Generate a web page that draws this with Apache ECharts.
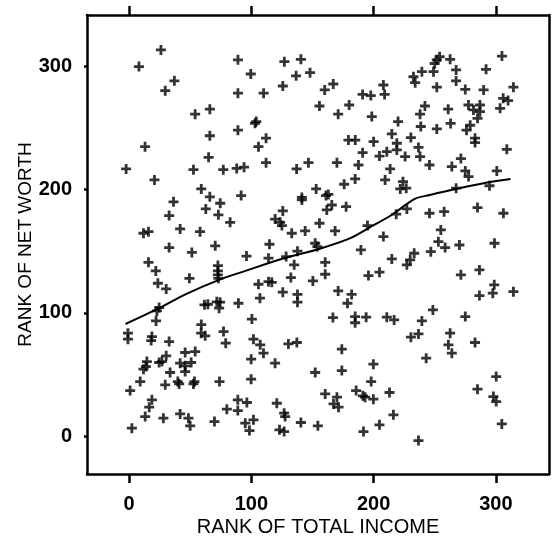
<!DOCTYPE html>
<html><head><meta charset="utf-8">
<script src="https://cdn.jsdelivr.net/npm/echarts@6/dist/echarts.min.js"></script>
<style>html,body{margin:0;padding:0;background:#fff}#c{width:553px;height:540px}</style>
</head><body><div id="c"></div>
<script>
const incomeRank = [
26,8,37,29.5,54,66,66,13,65,89,89,89,-2.5,52.6,77,88,94,
127,140.5,99.5,136.6,148,125.7,110,167,160,155.7,171,180,191,197.7,208,209,198.5,103,104,112,105.8,112,146.7,170,179.4,185,200,191,187.6,204.8,210.8,219,219,214.9,220,137,213.5,
254,251.7,250,262.6,249,239.5,232.6,234,267.5,267.5,251.7,275,292,290,305,314.4,306,310,303.5,242,238,238.6,251.7,263,261,277.6,281.7,287,287,285,279,276,283,283,309,230.5,236.7,225.8,238,245.7,271.4,264,275,300.8,
20.7,59,66,91.6,36.3,62.7,74.5,73,82.6,32.7,11.7,15.8,41.7,58,32.7,51.3,70.4,96,15.8,21.8,49.3,23.5,30.3,72.6,72.6,72.6,73,61.6,64.4,71.7,74.4,73.6,89.4,24.5,22.7,22,59,
153,163,161,141.3,141.3,165.8,161.7,177.5,125.7,119.4,123.5,125,155.7,133,144,168.5,114.8,152.2,154,137.7,114,128.4,135,160.4,132.3,160.4,105.8,114,116.7,150.3,125.7,137.7,137.7,107,100.4,171,182,178.6,166.7,184.9,184.9,193.9,210.8,216.8,189.6,195,208,214.9,195.8,204.8,218.5,175.9,184.9,209.4,
277.7,224,226.7,221.8,267.5,294.8,227.2,245.7,257.7,285,306.2,255,253,258.5,270.2,246.8,233.2,229.9,227.2,298.9,271.4,286.6,298.7,297.5,286.6,314.4,248.5,239.5,275,
-1,-1,18.6,18,32.7,58.9,62.2,77.2,79,14.5,13.7,11.7,26.8,30.3,24.5,45.8,54,41.7,45.8,50.7,45.8,33.5,9,29.5,39.8,40.9,53.4,52.6,0.8,73.9,18.6,16.4,13.1,28,41.7,48.5,49.9,2.2,69.8,88.9,79.9,88.9,
101.7,107.2,109.9,99.8,119.4,130.3,137.2,99.8,152.2,174,174,96.3,95,101.7,98.4,120.8,126.8,127.6,123,126.8,140.5,154.4,160.4,170,167.2,171.3,185.7,191.2,193,199.8,198,199.8,213,216.2,204.8,191.7,
230.5,236.7,262.6,261.2,264,283,243,300.3,285,298,300.3,304.9,236.7
];
const worthRank = [
313,299.5,288,280,261,265,243.5,234.6,226,305,278,248,216.6,216,216,217,218,
303.5,305.4,293.5,292,294.6,283.8,278,285.4,280.6,267.6,261,268.4,277,276,284.6,277,259,253.6,255,241.5,234.6,221.7,221.7,221.7,240,240,238.7,229.8,219.8,227,230.6,237.4,232,245,255,216.6,216.6,
307.5,305,302,305.4,295.4,295.4,291.3,286.5,296.8,287.9,282.8,281,297.3,280.6,308,282.8,273.8,272,265.7,267.6,261,251,249,253.5,265,268.4,264.4,268.4,263,257.6,252,248,241.5,238,232.5,242,234,226.6,226.6,219.8,225,218.5,215,215,
207.7,200.4,194,195,190,184.2,188.8,179.4,173.4,178.8,164.5,165.8,168,165.8,152.9,149,154.3,146,141,134,128,124,119.4,138.3,134,130.8,128,106.5,107,109,108.7,103.8,107.8,104.3,101.6,93.5,90.5,
200.4,196,195,191.5,193.5,187.4,183.4,186,182.6,176,173.4,170.7,172.6,164.5,166.4,166.4,155.6,156.4,153.7,150,144.3,145.6,138.9,141,128.6,131.3,123.2,125.3,124.8,125.9,116.8,115,108.7,111.9,95,117.8,115,107.8,96.2,97,92,96.5,96.5,94.3,151,170.7,161.8,143.7,130.2,133,180,204.2,208.5,207.7,
210.4,206.3,201,200.4,201,203,184.2,180.7,182,185.3,180.7,167.2,157.7,152.9,155,149.6,148.3,143,138.9,156.4,130.8,134.8,122.7,116,114,117.2,102.4,93.5,97,
83.6,78.7,80.8,77.6,76.8,83.6,81.4,84.9,75.5,60.6,56.5,54.4,60.6,65.2,59.8,67.9,68.7,59.3,57.1,59.8,52.5,51.7,44.4,41.7,44.4,42.5,44.4,42.5,37.1,44.4,29.6,23.6,16,14.7,18.2,14.7,8.5,6.6,12,29.6,22,20.9,
78.7,74.1,67.4,62.5,59.3,74.9,76,46.3,51.7,70.6,53.3,27.4,10.7,13.4,4.7,26.8,18.8,16,5.3,3.9,11.2,8.5,34.4,31.7,26.3,23.6,37.1,32.8,31.7,30.1,44.4,58.5,35.5,17.4,9.3,3.9,
80.3,83,83.6,74.1,67.4,76,63.3,48.4,38.2,32.2,28.2,10.1,-3.4
];
const curveIncome = [-3,25,46,74,95,126,156,181,200,215,234,246,268,295,312];
const curveWorth  = [91,104,115,127,134,144,152,160.5,171,179.5,192.5,195.5,200.5,206,208.5];
const xTicks = [0,100,200,300];
const yTicks = [0,100,200,300];
const xTitle = 'RANK OF TOTAL INCOME';
const yTitle = 'RANK OF NET WORTH';

const FONT = 'Arial, "Liberation Sans", sans-serif';
const scatterData = incomeRank.map((x,i)=>[x, worthRank[i]]);
const curveData = curveIncome.map((x,i)=>[x, curveWorth[i]]);
const PLUS = 'path://M3.6,0H6.4V3.6H10V6.4H6.4V10H3.6V6.4H0V3.6H3.6Z';

const chart = echarts.init(document.getElementById('c'), null, {renderer:'canvas'});
const lineStyle = {color:'#000', width:2.5};
const tickStyle = {color:'#000', width:2.5};
chart.setOption({
  animation:false,
  backgroundColor:'#fff',
  grid:{left:87, right:4, top:15, bottom:66, containLabel:false, outerBoundsMode:'none'},
  xAxis:[
    {type:'value', position:'bottom', min:-34.5, max:343.5,
     name:xTitle, nameLocation:'middle', nameGap:43, nameMoveOverlap:false,
     nameTextStyle:{fontSize:20, color:'#000', fontFamily:FONT},
     axisLine:{show:true, onZero:false, lineStyle},
     axisTick:{show:true, length:9, inside:false, lineStyle:tickStyle, customValues:xTicks},
     axisLabel:{show:true, customValues:xTicks, margin:20, fontSize:20, fontWeight:'bold', color:'#000', fontFamily:FONT},
     splitLine:{show:false}},
    {type:'value', position:'top', min:-34.5, max:343.5,
     axisLine:{show:true, onZero:false, lineStyle},
     axisTick:{show:true, length:9, inside:false, lineStyle:tickStyle, customValues:xTicks},
     axisLabel:{show:true, customValues:xTicks, formatter:()=>'', color:'transparent'},
     splitLine:{show:false}}
  ],
  yAxis:[
    {type:'value', position:'left', min:-30.5, max:341.3,
     name:yTitle, nameLocation:'middle', nameGap:52, nameRotate:90, nameMoveOverlap:false,
     nameTextStyle:{fontSize:19, color:'#000', fontFamily:FONT},
     axisLine:{show:true, onZero:false, lineStyle},
     axisTick:{show:true, length:3, inside:false, lineStyle:tickStyle, customValues:yTicks},
     axisLabel:{show:true, customValues:yTicks, margin:15, fontSize:20, fontWeight:'bold', color:'#000', fontFamily:FONT},
     splitLine:{show:false}},
    {type:'value', position:'right', min:-30.5, max:341.3,
     axisLine:{show:true, onZero:false, lineStyle},
     axisTick:{show:false}, axisLabel:{show:false}, splitLine:{show:false}}
  ],
  series:[
    {type:'scatter', xAxisIndex:0, yAxisIndex:0, data:scatterData,
     symbol:PLUS, symbolSize:[10,10], symbolKeepAspect:false,
     itemStyle:{color:'#000'}, silent:true},
    {type:'line', xAxisIndex:0, yAxisIndex:0, data:curveData, smooth:0.3,
     showSymbol:false, symbol:'none', lineStyle:{color:'#000', width:2}, silent:true}
  ]
});
</script>
</body></html>
